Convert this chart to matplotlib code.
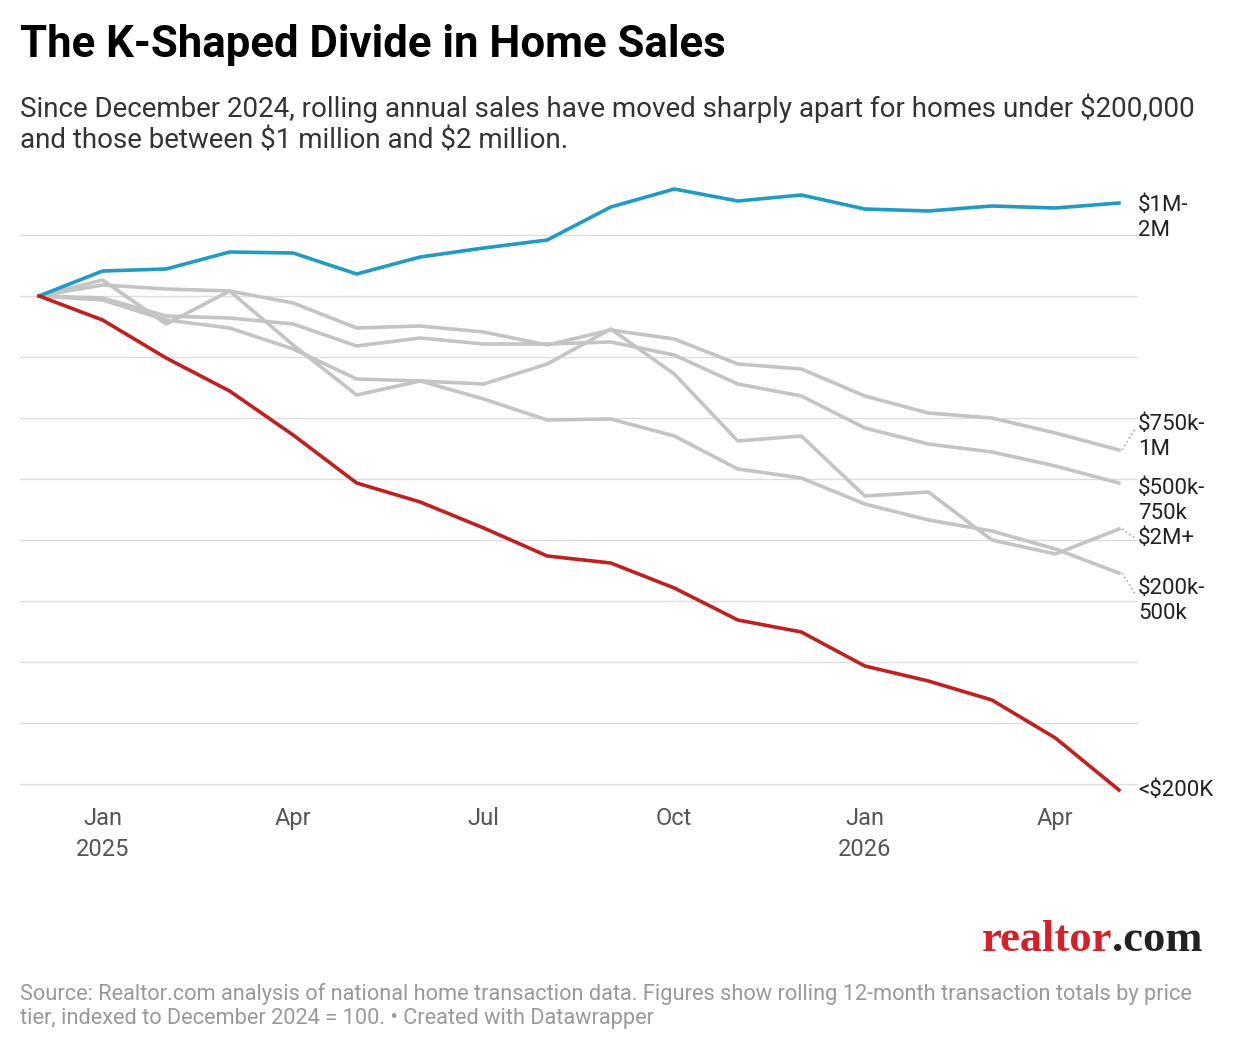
import matplotlib.pyplot as plt
import numpy as np

plt.rcParams['font.family'] = ['Roboto', 'DejaVu Sans']
plt.rcParams['text.parse_math'] = False  # dollar signs are plain text here

# Monthly index values, Dec 2024 = 100
months = np.arange(18)  # Dec 2024 .. May 2026
px = {
    '$1M-\n2M': [296, 271, 269, 252, 253, 274, 257, 248, 240, 207, 189, 201, 195, 209, 211, 206, 208, 203],
    '<$200K': [296, 320, 358, 391, 435, 483, 502, 528, 556, 563, 588, 620, 632, 666, 681, 700, 738, 790],
    '$750k-\n1M': [296, 285, 289, 291, 303, 328, 326, 332, 345, 330, 339, 364, 369, 396, 413, 418, 433, 450],
    '$500k-\n750k': [296, 298, 316, 318, 324, 346, 338, 344, 344, 342, 355, 384, 396, 428, 444, 452, 466, 483],
    '$2M+': [296, 280, 324, 291, 345, 395, 381, 384, 364, 329, 374, 441, 436, 496, 492, 540, 554, 529],
    '$200k-\n500k': [296, 300, 320, 328, 349, 379, 381, 399, 420, 419, 436, 469, 478, 504, 520, 531, 549, 573],
}
data = {k: 100 - (np.array(v) - 296) / 61 * 2 for k, v in px.items()}

fig = plt.figure(figsize=(12.4, 10.52), dpi=100)
ax = fig.add_axes([20 / 1240, 1 - 800 / 1052, 1118 / 1240, 620 / 1052])

for y in np.arange(82, 103, 2):
    ax.axhline(y, color='#dddddd', lw=1, zorder=0)

colors = {'$1M-\n2M': '#1f9bc4', '<$200K': '#c0201f'}
for name, vals in data.items():
    c = colors.get(name, '#c4c4c4')
    ax.plot(months, vals, color=c, lw=2.6, zorder=3 if name in colors else 2)

# Right-hand labels (label y in pixels)
lab = {'$1M-\n2M': 218, '$750k-\n1M': 437, '$500k-\n750k': 501, '$2M+': 538, '$200k-\n500k': 601, '<$200K': 790}
for name, ly in lab.items():
    yv = 100 - (ly - 296) / 61 * 2
    ax.text(17.3, yv, name, va='center', ha='left', fontsize=16, color='#222222', linespacing=1.3)
    end = data[name][-1]
    if name in ('$750k-\n1M', '$2M+', '$200k-\n500k'):
        ax.plot([17.05, 17.25], [end, yv + (0.25 if '\n' in name else 0)], ls=':', color='#aaaaaa', lw=1.2, clip_on=False)

ax.set_xlim(-0.3, 17.3)
ax.set_ylim(100 - (800 - 296) / 61 * 2, 100 + (296 - 180) / 61 * 2)
ax.set_xticks([1, 4, 7, 10, 13, 16])
ax.set_xticklabels(['Jan\n2025', 'Apr', 'Jul', 'Oct', 'Jan\n2026', 'Apr'], fontsize=17, color='#555555',
                   va='top', linespacing=1.45)
ax.tick_params(axis='x', length=0, pad=5)
ax.set_yticks([])
for s in ax.spines.values():
    s.set_visible(False)

fig.text(20 / 1240, 1 - 45 / 1052, 'The K-Shaped Divide in Home Sales', fontsize=31.5, fontweight='bold', va='center')
fig.text(20 / 1240, 1 - 124 / 1052, 'Since December 2024, rolling annual sales have moved sharply apart for homes under $200,000\n'
         'and those between $1 million and $2 million.', fontsize=20, color='#333333', va='center', linespacing=1.2)
fig.text(1112 / 1240, 1 - 940 / 1052, 'realtor', fontsize=32, color='#d5202a', family='Liberation Serif',
         fontweight='bold', ha='right', va='center')
fig.text(1112 / 1240, 1 - 940 / 1052, '.com', fontsize=32, color='#222222', family='Liberation Serif',
         fontweight='bold', ha='left', va='center')
fig.text(20 / 1240, 1 - 1006 / 1052, 'Source: Realtor.com analysis of national home transaction data. Figures show rolling 12-month transaction totals by price\n'
         'tier, indexed to December 2024 = 100. • Created with Datawrapper', fontsize=15.7, color='#999999', va='center', linespacing=1.2)

fig.savefig('out.png', dpi=100)
